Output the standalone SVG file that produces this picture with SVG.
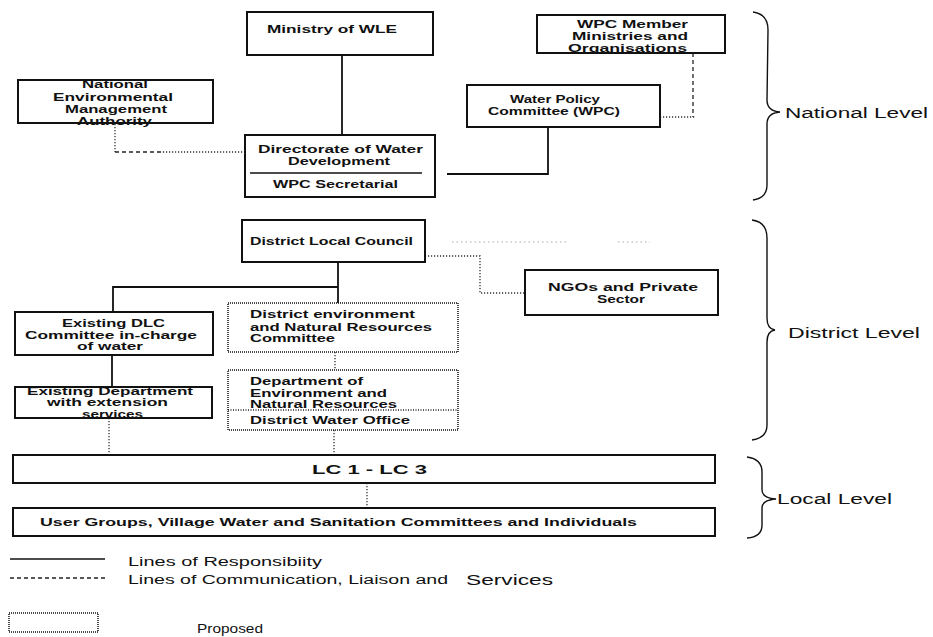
<svg xmlns="http://www.w3.org/2000/svg" width="933" height="637" viewBox="0 0 933 637">
<style>
.box{fill:#fff;stroke:#111;stroke-width:2}
.pbox{fill:#fff;stroke:#111;stroke-width:1.5;stroke-dasharray:1 1}
.t{font-family:"Liberation Sans",Arial,sans-serif;font-weight:bold;font-size:11.5px;fill:#111}
.lvl{font-family:"Liberation Sans",Arial,sans-serif;font-size:14px;fill:#111}
.lg{font-family:"Liberation Sans",Arial,sans-serif;font-size:12.5px;fill:#111}
.solid{stroke:#111;stroke-width:1.8;fill:none}
.dot{stroke:#333;stroke-width:1.3;stroke-dasharray:1.2 1.8;fill:none}
.faint{stroke:#aaa;stroke-width:1.2;stroke-dasharray:1.5 3;fill:none}
.dash{stroke:#222;stroke-width:1.3;stroke-dasharray:4 3;fill:none}
.brace{stroke:#111;stroke-width:1.4;fill:none}
</style>
<rect width="933" height="637" fill="#fff"/>

<g id="connectors">
  <path class="solid" d="M342,55 V135"/>
  <path class="solid" d="M447,174 H548 V127"/>
  <path class="solid" d="M338,262 V303 M338,287 H113 V312"/>
  <path class="solid" d="M112,355 V387"/>
  <path class="dot" d="M115,124 V152"/>
  <path class="dash" d="M115,152 H160"/>
  <path class="dot" d="M160,152 H245"/>
  <path class="dot" d="M660,117 H696"/>
  <path class="dash" d="M693,53 V117"/>
  <path class="dot" d="M425,256 H480 V293 H525"/>
  <path class="faint" d="M452,242 H567 M618,242 H650"/>
  <path class="dot" d="M335,352 V370"/>
  <path class="dot" d="M109,418 V455"/>
  <path class="dot" d="M334,430 V455"/>
  <path class="dot" d="M367,483 V508"/>
</g>

<g id="ministry">
  <rect class="box" x="247" y="12" width="186" height="43"/>
  <text class="t" x="267" y="33" textLength="130" lengthAdjust="spacingAndGlyphs">Ministry of WLE</text>
</g>
<g id="nema">
  <rect class="box" x="18" y="80" width="195" height="43"/>
  <text class="t" x="82" y="88" textLength="66" lengthAdjust="spacingAndGlyphs">National</text>
  <text class="t" x="53" y="100.5" textLength="120" lengthAdjust="spacingAndGlyphs">Environmental</text>
  <text class="t" x="65" y="113" textLength="102" lengthAdjust="spacingAndGlyphs">Management</text>
  <text class="t" x="77" y="124.5" textLength="75" lengthAdjust="spacingAndGlyphs">Authority</text>
</g>
<g id="directorate">
  <rect class="box" x="245" y="135" width="190" height="62"/>
  <text class="t" x="258" y="153" textLength="165" lengthAdjust="spacingAndGlyphs">Directorate of Water</text>
  <text class="t" x="288" y="165" textLength="102" lengthAdjust="spacingAndGlyphs">Development</text>
  <line x1="250" y1="173" x2="422" y2="173" stroke="#111" stroke-width="1.4"/>
  <text class="t" x="273" y="188" textLength="125" lengthAdjust="spacingAndGlyphs">WPC Secretarial</text>
</g>
<g id="wpc-members">
  <rect class="box" x="537" y="15" width="188" height="38"/>
  <text class="t" x="577" y="28" textLength="111" lengthAdjust="spacingAndGlyphs">WPC Member</text>
  <text class="t" x="572" y="40" textLength="116" lengthAdjust="spacingAndGlyphs">Ministries and</text>
  <text class="t" x="568" y="51.5" textLength="119" lengthAdjust="spacingAndGlyphs">Organisations</text>
</g>
<g id="wpc">
  <rect class="box" x="467" y="85" width="193" height="42"/>
  <text class="t" x="510" y="103" textLength="90" lengthAdjust="spacingAndGlyphs">Water Policy</text>
  <text class="t" x="488" y="115" textLength="132" lengthAdjust="spacingAndGlyphs">Committee (WPC)</text>
</g>
<g id="dlc">
  <rect class="box" x="242" y="220" width="183" height="42"/>
  <text class="t" x="250" y="245" textLength="163" lengthAdjust="spacingAndGlyphs">District Local Council</text>
</g>
<g id="ngo">
  <rect class="box" x="525" y="270" width="193" height="45"/>
  <text class="t" x="548" y="291" textLength="150" lengthAdjust="spacingAndGlyphs">NGOs and Private</text>
  <text class="t" x="597" y="302.5" textLength="48" lengthAdjust="spacingAndGlyphs">Sector</text>
</g>
<g id="existing-dlc">
  <rect class="box" x="15" y="312" width="198" height="43"/>
  <text class="t" x="62" y="327" textLength="103" lengthAdjust="spacingAndGlyphs">Existing DLC</text>
  <text class="t" x="25" y="339" textLength="172" lengthAdjust="spacingAndGlyphs">Committee in-charge</text>
  <text class="t" x="77" y="350" textLength="66" lengthAdjust="spacingAndGlyphs">of water</text>
</g>
<g id="existing-dept">
  <rect class="box" x="15" y="387" width="197" height="31"/>
  <text class="t" x="27" y="395" textLength="166" lengthAdjust="spacingAndGlyphs">Existing Department</text>
  <text class="t" x="47" y="406" textLength="121" lengthAdjust="spacingAndGlyphs">with extension</text>
  <text class="t" x="82" y="417.5" textLength="61" lengthAdjust="spacingAndGlyphs">services</text>
</g>
<g id="district-env">
  <rect class="pbox" x="228" y="303" width="230" height="49"/>
  <text class="t" x="250" y="318" textLength="165" lengthAdjust="spacingAndGlyphs">District environment</text>
  <text class="t" x="250" y="331" textLength="182" lengthAdjust="spacingAndGlyphs">and Natural Resources</text>
  <text class="t" x="250" y="342" textLength="85" lengthAdjust="spacingAndGlyphs">Committee</text>
</g>
<g id="dept-env">
  <rect class="pbox" x="228" y="370" width="230" height="60"/>
  <text class="t" x="250" y="385" textLength="113" lengthAdjust="spacingAndGlyphs">Department of</text>
  <text class="t" x="250" y="397" textLength="137" lengthAdjust="spacingAndGlyphs">Environment and</text>
  <text class="t" x="250" y="408" textLength="147" lengthAdjust="spacingAndGlyphs">Natural Resources</text>
  <line x1="228" y1="410" x2="458" y2="410" stroke="#222" stroke-width="1.3" stroke-dasharray="1 1.5"/>
  <text class="t" x="250" y="424" textLength="160" lengthAdjust="spacingAndGlyphs">District Water Office</text>
</g>
<g id="lc">
  <rect class="box" x="13" y="455" width="702" height="28"/>
  <text class="t" x="312" y="473.5" style="font-size:13px" textLength="115" lengthAdjust="spacingAndGlyphs">LC 1 - LC 3</text>
</g>
<g id="user-groups">
  <rect class="box" x="13" y="508" width="702" height="28"/>
  <text class="t" x="40" y="526" style="font-size:11px" textLength="597" lengthAdjust="spacingAndGlyphs">User Groups, Village Water and Sanitation Committees and Individuals</text>
</g>

<g id="levels">
  <path class="brace" d="M753,12 Q768,14 768,30 L767,100 Q767,111 780,112 Q767,113 767,124 L767,185 Q767,198 753,200"/>
  <text class="lvl" x="785" y="118" textLength="143" lengthAdjust="spacingAndGlyphs">National Level</text>
  <path class="brace" d="M752,220 Q767,222 767,238 L767,318 Q767,329 775,330 Q767,331 767,342 L767,425 Q767,438 752,440"/>
  <text class="lvl" x="788" y="338" textLength="132" lengthAdjust="spacingAndGlyphs">District Level</text>
  <path class="brace" d="M747,457 Q762,459 762,472 L762,490 Q762,498 776,499 Q762,500 762,508 L762,525 Q762,537 747,538"/>
  <text class="lvl" x="777" y="504" textLength="115" lengthAdjust="spacingAndGlyphs">Local Level</text>
</g>

<g id="legend">
  <line x1="10" y1="559" x2="105" y2="559" stroke="#111" stroke-width="1.5"/>
  <text class="lg" x="128" y="566" textLength="194" lengthAdjust="spacingAndGlyphs">Lines of Responsibiity</text>
  <line x1="10" y1="578" x2="106" y2="578" class="dash"/>
  <text class="lg" x="128" y="584" textLength="320" lengthAdjust="spacingAndGlyphs">Lines of Communication, Liaison and</text>
  <text class="lg" x="466" y="585" style="font-size:14.5px" textLength="87" lengthAdjust="spacingAndGlyphs">Services</text>
  <rect class="pbox" x="9" y="613" width="89" height="19"/>
  <text class="lg" x="197" y="633" textLength="66" lengthAdjust="spacingAndGlyphs">Proposed</text>
</g>
</svg>
